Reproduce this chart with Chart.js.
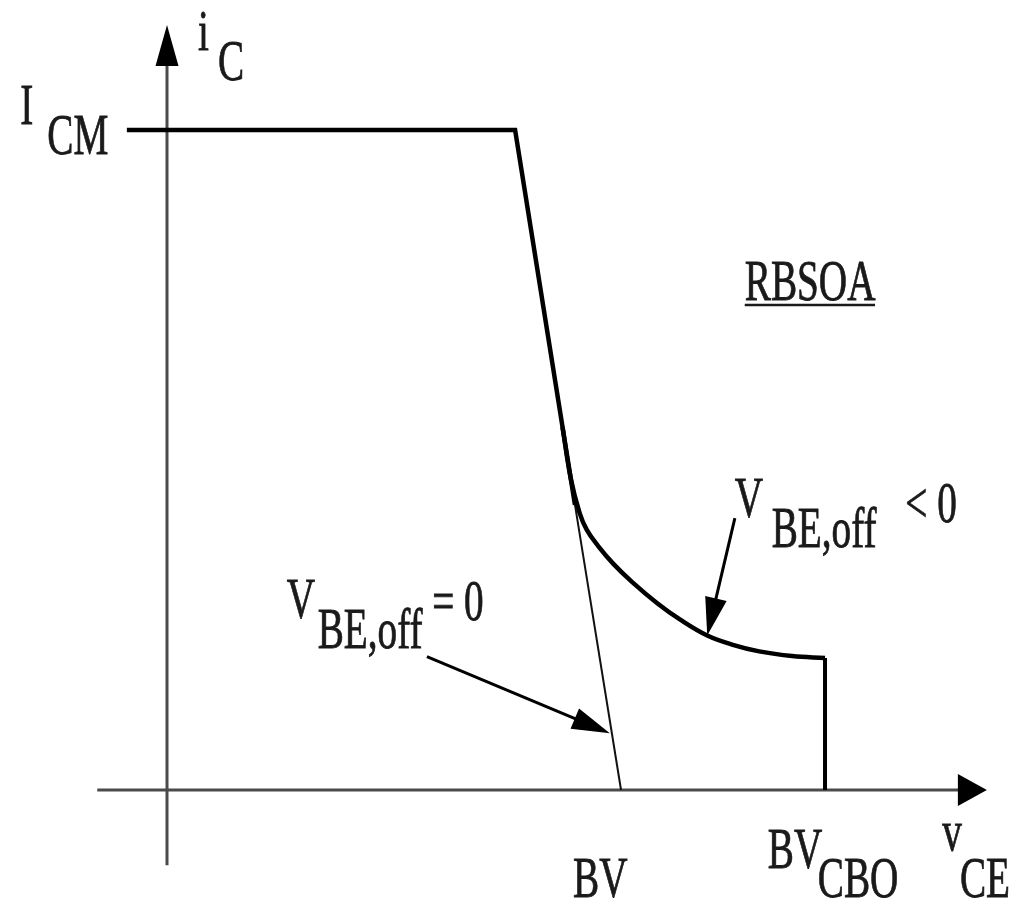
<!DOCTYPE html>
<html>
<head>
<meta charset="utf-8">
<title>RBSOA</title>
<script src="https://cdn.jsdelivr.net/npm/chart.js@4"></script>
<style>
  html, body { margin: 0; padding: 0; background: #fff; }
  #wrap { width: 1009px; height: 901px; }
</style>
</head>
<body>
<div id="wrap"><canvas id="rbsoa" width="1009" height="901"></canvas></div>
<script>
// unités relatives : BV_CBO = 100 sur vCE, I_CM = 100 sur iC
const bvValue = 69;
const bvcboValue = 100;

// palier I_CM puis descente raide
const edgeX = [-6.1, 52.9, 62.0];
const edgeY = [100, 100, 43.2];

// courbe V_BE,off < 0 (part de la descente raide)
const curveX = [60.1, 61.4, 62.7, 63.8, 65.5, 67.8, 70.7, 74.5, 78.0, 82.1, 86.0, 90.0, 95.0, 100];
const curveY = [55.0, 47.0, 42.0, 39.4, 37.0, 34.3, 31.5, 28.3, 25.8, 23.4, 22.0, 21.0, 20.3, 20];

// droite V_BE,off = 0 jusqu'à BV
const thinX = [62.0, bvValue];
const thinY = [43.2, 0];

// verticale à BV_CBO
const wallX = [bvcboValue, bvcboValue];
const wallY = [20, 0];

// étendue des axes
const axisX = [-10.6, 124.6];
const axisY = [-11.4, 115.9];

const pts = (xs, ys) => xs.map((x, i) => ({ x: x, y: ys[i] }));

// textes : [texte, x, y] ligne de base gauche, en unités du graphe
const notes = [
    ['i', 4.7, 112.1], ['C', 7.75, 107.6],
    ['I', -22.3, 100.9], ['CM', -18.2, 96.4],
    ['RBSOA', 87.8, 74.2],
    ['V', 86.3, 41.4], ['BE,off', 91.9, 36.8], ['< 0', 112.2, 40.6],
    ['V', 18.2, 26.1], ['BE,off', 22.9, 21.5], ['= 0', 40.3, 25.8],
    ['BV', 61.7, -16.2],
    ['BV', 91.3, -11.8], ['CBO', 98.9, -16.2],
    ['v', 117.8, -9.1], ['CE', 120.5, -16.2]
];
const underline = [87.8, 107.6, 73.5];

// flèches : départ -> pointe
const pointers = [
    [86.3, 41.2, 82.1, 23.4],
    [39.5, 20.2, 67.3, 8.6]
];

function head(ctx, x1, y1, x2, y2, len, half) {
    const a = Math.atan2(y2 - y1, x2 - x1);
    ctx.beginPath();
    ctx.moveTo(x2, y2);
    ctx.lineTo(x2 - len * Math.cos(a) + half * Math.sin(a), y2 - len * Math.sin(a) - half * Math.cos(a));
    ctx.lineTo(x2 - len * Math.cos(a) - half * Math.sin(a), y2 - len * Math.sin(a) + half * Math.cos(a));
    ctx.closePath();
    ctx.fill();
}

const axesPlugin = {
    id: 'axes',
    beforeDatasetsDraw(chart) {
        const ctx = chart.ctx, sx = chart.scales.x, sy = chart.scales.y;
        const x0 = sx.getPixelForValue(0), y0 = sy.getPixelForValue(0);
        ctx.save();
        ctx.strokeStyle = '#4a4a4a';
        ctx.fillStyle = '#000';
        ctx.lineWidth = 3;
        // axe horizontal
        const xa = sx.getPixelForValue(axisX[0]), xb = sx.getPixelForValue(axisX[1]);
        ctx.beginPath(); ctx.moveTo(xa, y0); ctx.lineTo(xb - 20, y0); ctx.stroke();
        head(ctx, xa, y0, xb, y0, 29, 16);
        // axe vertical
        const ya = sy.getPixelForValue(axisY[0]), yb = sy.getPixelForValue(axisY[1]);
        ctx.beginPath(); ctx.moveTo(x0, ya); ctx.lineTo(x0, yb + 30); ctx.stroke();
        head(ctx, x0, ya, x0, yb, 41, 11.5);
        ctx.restore();
    },
    afterDatasetsDraw(chart) {
        const ctx = chart.ctx, sx = chart.scales.x, sy = chart.scales.y;
        ctx.save();
        ctx.fillStyle = '#1a1a1a';
        ctx.strokeStyle = '#1a1a1a';
        ctx.lineWidth = 0.8;
        ctx.font = '56px "Liberation Serif", "DejaVu Serif", serif';
        ctx.textAlign = 'left';
        ctx.textBaseline = 'alphabetic';
        notes.forEach(n => {
            ctx.save();
            ctx.translate(sx.getPixelForValue(n[1]), sy.getPixelForValue(n[2]));
            ctx.scale(0.7, 1);
            ctx.fillText(n[0], 0, 0);
            ctx.strokeText(n[0], 0, 0);
            ctx.restore();
        });
        // soulignement RBSOA
        ctx.lineWidth = 2.5;
        ctx.beginPath();
        ctx.moveTo(sx.getPixelForValue(underline[0]), sy.getPixelForValue(underline[2]));
        ctx.lineTo(sx.getPixelForValue(underline[1]), sy.getPixelForValue(underline[2]));
        ctx.stroke();
        // flèches
        ctx.fillStyle = '#000';
        ctx.strokeStyle = '#000';
        ctx.lineWidth = 3;
        pointers.forEach(p => {
            const x1 = sx.getPixelForValue(p[0]), y1 = sy.getPixelForValue(p[1]);
            const x2 = sx.getPixelForValue(p[2]), y2 = sy.getPixelForValue(p[3]);
            const a = Math.atan2(y2 - y1, x2 - x1);
            ctx.beginPath();
            ctx.moveTo(x1, y1);
            ctx.lineTo(x2 - 30 * Math.cos(a), y2 - 30 * Math.sin(a));
            ctx.stroke();
            head(ctx, x1, y1, x2, y2, 38, 11);
        });
        ctx.restore();
    }
};

const thick = { showLine: true, borderColor: '#000', borderWidth: 4.5, pointRadius: 0, fill: false };

new Chart(document.getElementById('rbsoa'), {
    type: 'scatter',
    data: {
        datasets: [
            Object.assign({ label: 'I_CM', data: pts(edgeX, edgeY), tension: 0 }, thick),
            Object.assign({ label: 'V_BE,off < 0', data: pts(curveX, curveY), tension: 0.4 }, thick),
            Object.assign({ label: 'BV_CBO', data: pts(wallX, wallY), tension: 0 }, thick, { borderWidth: 4 }),
            { label: 'V_BE,off = 0', data: pts(thinX, thinY), showLine: true, borderColor: '#111', borderWidth: 2, pointRadius: 0, tension: 0 }
        ]
    },
    options: {
        responsive: false,
        devicePixelRatio: 1,
        animation: false,
        layout: { padding: 0 },
        scales: {
            x: { type: 'linear', min: -25.38, max: 127.96, display: false },
            y: { type: 'linear', min: -16.82, max: 119.7, display: false }
        },
        plugins: { legend: { display: false }, tooltip: { enabled: false } }
    },
    plugins: [axesPlugin]
});
</script>
</body>
</html>
